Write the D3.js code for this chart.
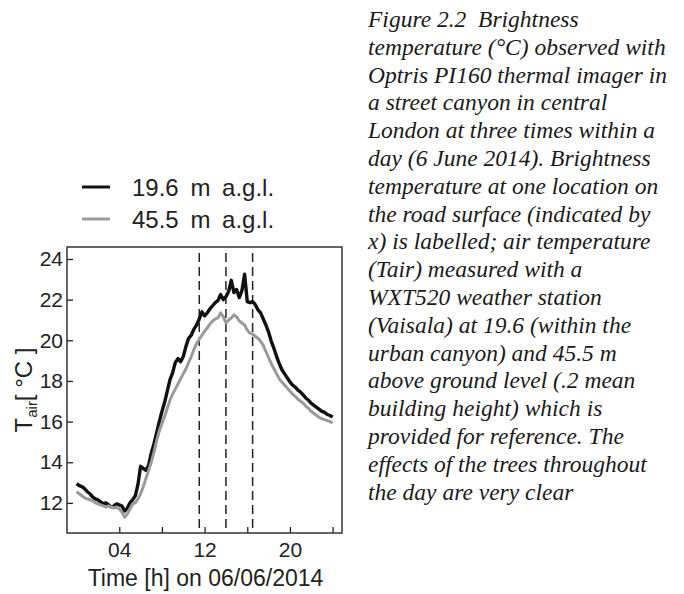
<!DOCTYPE html>
<html>
<head>
<meta charset="utf-8">
<script src="https://cdn.jsdelivr.net/npm/d3@7"></script>
<style>
    body { margin: 0; background: #fff; }
    svg { display: block; }
</style>
</head>
<body>
<div id="chart"></div>
<script>
const hours = d3.range(0, 24.001, 0.25)

const tair196 = [
    12.95, 12.85, 12.80, 12.70, 12.55, 12.45, 12.30, 12.20, 12.15, 12.05, 11.95, 12.00,
    11.90, 11.80, 11.85, 11.95, 11.90, 11.85, 11.60, 11.75, 12.00, 12.15, 12.35, 12.90,
    13.80, 13.70, 13.60, 13.85, 14.45, 14.90, 15.45, 16.00, 16.50, 16.95, 17.50, 18.05,
    18.40, 18.90, 19.10, 18.95, 19.20, 19.70, 20.10, 20.25, 20.55, 20.75, 21.05, 21.40,
    21.20, 21.35, 21.55, 21.70, 21.85, 21.95, 22.25, 22.00, 22.15, 22.40, 22.95, 22.35,
    22.50, 22.10, 22.45, 23.25, 21.90, 21.85, 21.90, 21.75, 21.50, 21.35, 21.05, 20.75,
    20.40, 19.95, 19.60, 19.20, 18.85, 18.55, 18.35, 18.15, 17.95, 17.80, 17.70, 17.55,
    17.45, 17.30, 17.15, 17.05, 16.90, 16.80, 16.70, 16.60, 16.50, 16.45, 16.35, 16.30,
    16.22
]

const tair455 = [
    12.55, 12.45, 12.35, 12.25, 12.20, 12.15, 12.10, 12.00, 11.95, 11.90, 11.85, 11.80,
    11.85, 11.80, 11.75, 11.80, 11.70, 11.55, 11.30, 11.45, 11.70, 11.95, 12.00, 12.20,
    12.45, 12.80, 13.20, 13.60, 14.00, 14.50, 15.05, 15.55, 15.90, 16.25, 16.65, 17.05,
    17.35, 17.60, 17.85, 18.10, 18.35, 18.60, 18.90, 19.20, 19.55, 19.85, 20.05, 20.25,
    20.45, 20.60, 20.80, 20.95, 21.05, 21.10, 21.35, 21.15, 20.85, 21.00, 21.10, 21.25,
    21.15, 20.95, 20.85, 20.75, 20.50, 20.35, 20.30, 20.20, 20.10, 19.95, 19.75, 19.45,
    19.15, 18.85, 18.60, 18.35, 18.10, 17.95, 17.80, 17.65, 17.50, 17.35, 17.25, 17.10,
    17.00, 16.90, 16.75, 16.65, 16.50, 16.40, 16.30, 16.20, 16.15, 16.10, 16.05, 16.00,
    15.93
]

const seriesNames = ['19.6 m a.g.l.', '45.5 m a.g.l.']
const seriesColors = ['#111', '#9a9a9a']
const imageTimes = [11.5, 14, 16.5]
const xTicks = [4, 8, 12, 16, 20, 24]
const xTickLabels = { 4: '04', 12: '12', 20: '20' }
const yTicks = [12, 14, 16, 18, 20, 22, 24]

const caption = [
    'Figure 2.2  Brightness',
    'temperature (°C) observed with',
    'Optris PI160 thermal imager in',
    'a street canyon in central',
    'London at three times within a',
    'day (6 June 2014). Brightness',
    'temperature at one location on',
    'the road surface (indicated by',
    'x) is labelled; air temperature',
    '(Tair) measured with a',
    'WXT520 weather station',
    '(Vaisala) at 19.6 (within the',
    'urban canyon) and 45.5 m',
    'above ground level (.2 mean',
    'building height) which is',
    'provided for reference. The',
    'effects of the trees throughout',
    'the day are very clear'
]

const width = 684
const height = 594
const plot = { left: 67, right: 342, top: 247, bottom: 533 }
const sans = 'Liberation Sans, Arial, sans-serif'

const svg = d3.select('#chart').append('svg')
    .attr('width', width)
    .attr('height', height)

const x = d3.scaleLinear().domain([-0.9, 24.88]).range([plot.left, plot.right])
const y = d3.scaleLinear().domain([10.52, 24.59]).range([plot.bottom, plot.top])

// dashed lines at the three thermal image times
svg.selectAll('.img-time')
    .data(imageTimes)
    .join('line')
    .attr('class', 'img-time')
    .attr('x1', d => x(d)).attr('x2', d => x(d))
    .attr('y1', plot.top + 6).attr('y2', plot.bottom)
    .attr('stroke', '#222')
    .attr('stroke-width', 1.5)
    .attr('stroke-dasharray', '9,5')

const line = d3.line()
    .x((d, i) => x(hours[i]))
    .y(d => y(d))

svg.selectAll('.series')
    .data([tair196, tair455])
    .join('path')
    .attr('class', 'series')
    .attr('d', line)
    .attr('fill', 'none')
    .attr('stroke', (d, i) => seriesColors[i])
    .attr('stroke-width', (d, i) => i === 0 ? 3.4 : 3)
    .attr('stroke-linejoin', 'round')

// axes with inward ticks
const xAxis = svg.append('g')
    .attr('transform', `translate(0,${plot.bottom})`)
    .call(d3.axisBottom(x).tickValues(xTicks).tickSizeInner(-6).tickSizeOuter(0)
        .tickFormat(d => xTickLabels[d] || ''))
xAxis.select('.domain').remove()
xAxis.selectAll('.tick line').attr('stroke', '#222').attr('stroke-width', 1.3)
xAxis.selectAll('.tick text')
    .attr('y', 9)
    .attr('fill', '#222')
    .style('font-family', sans)
    .style('font-size', '21px')

const yAxis = svg.append('g')
    .attr('transform', `translate(${plot.left},0)`)
    .call(d3.axisLeft(y).tickValues(yTicks).tickSizeInner(-6).tickSizeOuter(0))
yAxis.select('.domain').remove()
yAxis.selectAll('.tick line').attr('stroke', '#222').attr('stroke-width', 1.3)
yAxis.selectAll('.tick text')
    .attr('x', -4)
    .attr('fill', '#222')
    .style('font-family', sans)
    .style('font-size', '21px')

svg.append('rect')
    .attr('x', plot.left).attr('y', plot.top)
    .attr('width', plot.right - plot.left)
    .attr('height', plot.bottom - plot.top)
    .attr('fill', 'none')
    .attr('stroke', '#333')
    .attr('stroke-width', 1.5)

svg.append('text')
    .attr('x', (plot.left + plot.right) / 2 + 1)
    .attr('y', 586)
    .attr('text-anchor', 'middle')
    .attr('fill', '#222')
    .style('font-family', sans)
    .style('font-size', '23px')
    .text('Time [h] on 06/06/2014')

const yTitle = svg.append('text')
    .attr('transform', 'translate(32,390) rotate(-90)')
    .attr('text-anchor', 'middle')
    .attr('fill', '#222')
    .style('font-family', sans)
    .style('font-size', '24px')
yTitle.append('tspan').text('T')
yTitle.append('tspan').attr('dy', 5).style('font-size', '15px').text('air')
yTitle.append('tspan').attr('dy', -5).text('[ °C ]')

// legend
const legend = svg.selectAll('.legend')
    .data(seriesNames)
    .join('g')
    .attr('class', 'legend')
    .attr('transform', (d, i) => `translate(82,${187 + i * 32})`)
legend.append('line')
    .attr('x1', 0).attr('x2', 28)
    .attr('stroke', (d, i) => seriesColors[i])
    .attr('stroke-width', 3)
legend.append('text')
    .attr('x', 50)
    .attr('y', 9)
    .attr('fill', '#222')
    .style('font-family', sans)
    .style('font-size', '24px')
    .style('word-spacing', '5px')
    .text(d => d)

svg.append('g')
    .selectAll('text')
    .data(caption)
    .join('text')
    .attr('x', 368)
    .attr('y', (d, i) => 27 + i * 27.8)
    .attr('fill', '#1a1a1a')
    .style('white-space', 'pre')
    .style('font-family', 'Liberation Serif, Times New Roman, serif')
    .style('font-style', 'italic')
    .style('font-size', '23.5px')
    .text(d => d)
</script>
</body>
</html>
